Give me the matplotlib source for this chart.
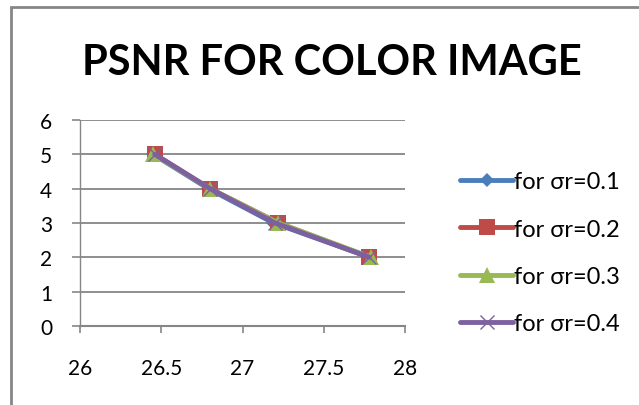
import matplotlib
matplotlib.use("Agg")
import matplotlib.pyplot as plt
from matplotlib.patches import Rectangle

plt.rcParams['font.family'] = ['Lato', 'DejaVu Sans']

# PSNR values (x) against noise level index (y)
psnr_01 = [26.45, 26.79, 27.19, 27.78]
psnr_02 = [26.46, 26.80, 27.22, 27.78]
psnr_03 = [26.45, 26.80, 27.22, 27.79]
psnr_04 = [26.46, 26.80, 27.20, 27.78]
levels = [5, 4, 3, 2]
labels = ['for σr=0.1', 'for σr=0.2', 'for σr=0.3', 'for σr=0.4']

colors = ['#4A7EBB', '#BE4B48', '#98B954', '#7D60A0']
markers = ['D', 's', '^', 'x']
msizes = [7, 11, 11, 10]

fig = plt.figure(figsize=(6.39, 4.06), dpi=100, facecolor='white')
ax = fig.add_axes([0.125, 0.195, 0.509, 0.507])

for xs, lab, c, m, ms in zip([psnr_01, psnr_02, psnr_03, psnr_04], labels,
                             colors, markers, msizes):
    ax.plot(xs, levels, color=c, lw=3.5, marker=m, ms=ms, mew=1 if m == 'x' else 0,
            label=lab, solid_capstyle='round')

ax.set_xlim(26, 28)
ax.set_ylim(0, 6)
ax.set_xticks([26, 26.5, 27, 27.5, 28])
ax.set_xticklabels(['26', '26.5', '27', '27.5', '28'])
ax.set_yticks(range(7))

ax.grid(axis='y', color='#868686', lw=1.3)
ax.set_axisbelow(True)
for s in ('top', 'right'):
    ax.spines[s].set_visible(False)
for s in ('left', 'bottom'):
    ax.spines[s].set_color('#868686')
ax.spines['left'].set_linewidth(1)
ax.spines['bottom'].set_linewidth(1.5)
ax.tick_params(axis='x', direction='out', length=5, width=1.2, color='#868686',
               labelsize=15, pad=18)
ax.tick_params(axis='y', direction='out', length=6, width=1.2, color='#868686',
               labelsize=15, pad=14)

fig.text(0.52, 0.845, 'PSNR FOR COLOR IMAGE', ha='center', va='center',
         fontsize=30, fontweight='bold')

leg = ax.legend(loc='center left', bbox_to_anchor=(1.14, 0.355), frameon=False,
                fontsize=17, handlelength=2.25, handletextpad=0.05, labelspacing=1.12,
                borderaxespad=0)

# chart area border (left and top visible)
fig.patches.append(Rectangle((0.017, -0.1), 1.1, 1.08, transform=fig.transFigure,
                             fill=False, edgecolor='#868686', lw=2))

fig.savefig('out.png', dpi=100)
